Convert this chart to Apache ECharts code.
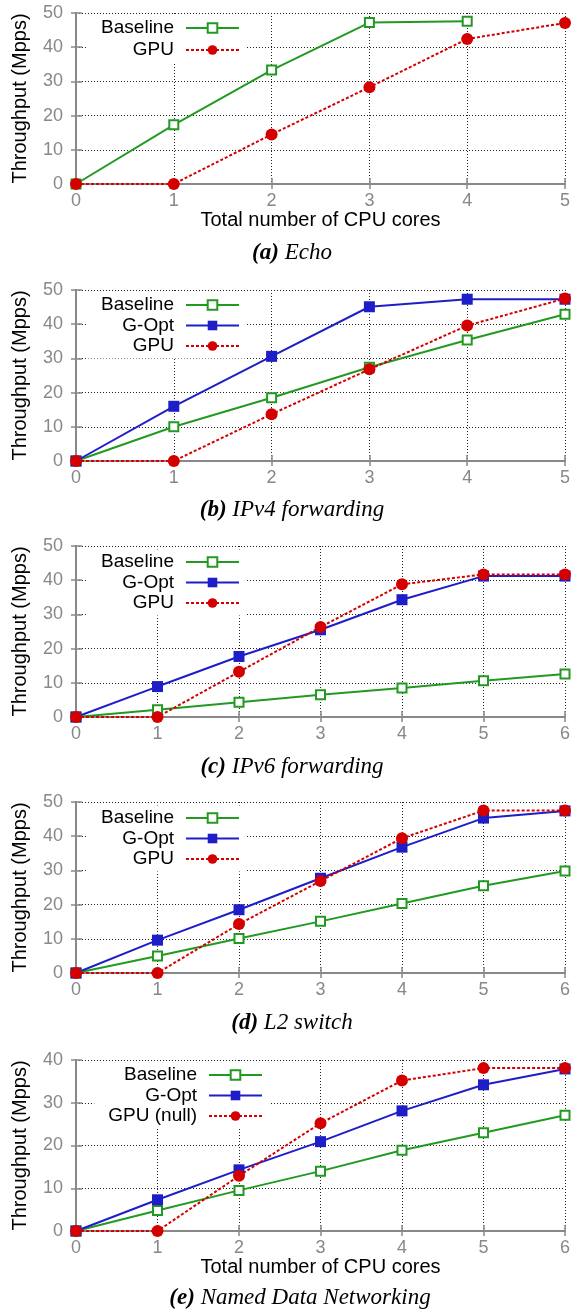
<!DOCTYPE html>
<html>
<head>
<meta charset="utf-8">
<script src="https://cdn.jsdelivr.net/npm/echarts@6.0.0/dist/echarts.min.js"></script>
<style>
  html, body { margin: 0; padding: 0; background: #fff; }
  #chart { width: 581px; height: 1310px; }
</style>
</head>
<body>
<div id="chart"></div>
<script>
// ---- data (Mpps per number of CPU cores) ----
const coresFive = [0, 1, 2, 3, 4, 5]
const coresSix = [0, 1, 2, 3, 4, 5, 6]

const echoBaseline = [0, 17.3, 33.3, 47.2, 47.6]
const echoGpu = [0, 0, 14.5, 28.3, 42.4, 47.1]

const ipv4Baseline = [0, 10.0, 18.5, 27.4, 35.4, 42.9]
const ipv4GOpt = [0, 16.0, 30.6, 45.1, 47.3, 47.3]
const ipv4Gpu = [0, 0, 13.7, 26.8, 39.6, 47.5]

const ipv6Baseline = [0, 2.1, 4.3, 6.5, 8.5, 10.6, 12.6]
const ipv6GOpt = [0, 8.9, 17.7, 25.5, 34.3, 41.2, 41.2]
const ipv6Gpu = [0, 0, 13.2, 26.3, 38.8, 41.7, 41.7]

const l2Baseline = [0, 5.0, 10.1, 15.1, 20.3, 25.5, 29.8]
const l2GOpt = [0, 9.6, 18.5, 27.7, 36.8, 45.3, 47.4]
const l2Gpu = [0, 0, 14.3, 26.9, 39.4, 47.5, 47.5]

const ndnBaseline = [0, 4.8, 9.5, 14.0, 18.9, 23.0, 27.1]
const ndnGOpt = [0, 7.3, 14.3, 20.9, 28.1, 34.2, 37.9]
const ndnGpu = [0, 0, 12.9, 25.2, 35.2, 38.1, 38.1]

const captionLetters = ['(a)', '(b)', '(c)', '(d)', '(e)']
const captionNames = ['Echo', 'IPv4 forwarding', 'IPv6 forwarding', 'L2 switch', 'Named Data Networking']
const yMaxes = [50, 50, 50, 50, 40]
const xTitle = 'Total number of CPU cores'
const yTitle = 'Throughput (Mpps)'

const panels = [
  { cores: coresFive, lines: [['Baseline', echoBaseline], ['GPU', echoGpu]] },
  { cores: coresFive, lines: [['Baseline', ipv4Baseline], ['G-Opt', ipv4GOpt], ['GPU', ipv4Gpu]] },
  { cores: coresSix, lines: [['Baseline', ipv6Baseline], ['G-Opt', ipv6GOpt], ['GPU', ipv6Gpu]] },
  { cores: coresSix, lines: [['Baseline', l2Baseline], ['G-Opt', l2GOpt], ['GPU', l2Gpu]] },
  { cores: coresSix, lines: [['Baseline', ndnBaseline], ['G-Opt', ndnGOpt], ['GPU (null)', ndnGpu]] }
]

// ---- layout ----
const gridTops = [13, 290, 546, 802, 1060]
const gridH = 171
const showXTitle = [true, false, false, false, true]
const legendTops = [15.5, 292.5, 549.5, 805.5, 1062.5]
const legendRights = [334, 334, 334, 334, 311]
const legendGaps = [3, 1.5, 1.5, 1.5, 1.5]
const captionX = [292, 292, 292, 292, 300]
const captionY = [253, 510, 767, 1023, 1298]

const SANS = 'Liberation Sans'
const SERIF = 'Liberation Serif'
const GRAY = '#888'

const GREEN = '#229a22'
const BLUE = '#1e1ec8'
const RED = '#d40000'

const styleFor = (name) => {
  if (name === 'Baseline') {
    return {
      symbol: 'emptyRect', symbolSize: 9,
      itemStyle: { color: GREEN, borderWidth: 1.8 },
      lineStyle: { color: GREEN, width: 2 }
    }
  }
  if (name === 'G-Opt') {
    return {
      symbol: 'rect', symbolSize: 11,
      itemStyle: { color: BLUE, borderWidth: 0 },
      lineStyle: { color: BLUE, width: 2 }
    }
  }
  return {
    symbol: 'circle', symbolSize: 12,
    itemStyle: { color: RED, borderWidth: 0 },
    lineStyle: { color: RED, width: 2, type: [3, 2] }
  }
}

const grids = []
const xAxes = []
const yAxes = []
const series = []
const legends = []

panels.forEach((p, i) => {
  const xMax = p.cores[p.cores.length - 1]
  grids.push({ left: 76, width: 489, top: gridTops[i], height: gridH })

  xAxes.push({
    gridIndex: i, type: 'value', min: 0, max: xMax, interval: 1,
    name: showXTitle[i] ? xTitle : '',
    nameLocation: 'middle', nameGap: 26,
    nameTextStyle: { color: '#000', fontSize: 20, fontFamily: SANS },
    axisLine: { show: true, onZero: false, lineStyle: { color: GRAY, width: 2 } },
    axisTick: { inside: true, length: 6, lineStyle: { color: GRAY, width: 1.5 } },
    axisLabel: { color: GRAY, fontSize: 18, fontFamily: SANS, margin: 8 },
    splitLine: { show: true, lineStyle: { color: '#222', width: 1, type: [1, 2] } }
  })
  xAxes.push({
    gridIndex: i, type: 'value', position: 'top', min: 0, max: xMax, interval: 1,
    axisLine: { show: false },
    axisTick: { inside: true, length: 5, lineStyle: { color: GRAY, width: 1.5 } },
    axisLabel: { show: false },
    splitLine: { show: false }
  })

  yAxes.push({
    gridIndex: i, type: 'value', min: 0, max: yMaxes[i], interval: 10,
    name: yTitle, nameLocation: 'middle', nameGap: 46,
    nameTextStyle: { color: '#000', fontSize: 20, fontFamily: SANS },
    axisLine: { show: true, onZero: false, lineStyle: { color: GRAY, width: 2 } },
    axisTick: { inside: true, length: 6, lineStyle: { color: GRAY, width: 1.5 } },
    axisLabel: { color: GRAY, fontSize: 18, fontFamily: SANS, margin: 13 },
    splitLine: { show: true, lineStyle: { color: '#222', width: 1, type: [1, 2] } }
  })
  yAxes.push({
    gridIndex: i, type: 'value', position: 'right', min: 0, max: yMaxes[i], interval: 10,
    axisLine: { show: false },
    axisTick: { inside: true, length: 5, lineStyle: { color: GRAY, width: 1.5 } },
    axisLabel: { show: false },
    splitLine: { show: false }
  })

  p.lines.forEach(([name, values]) => {
    series.push({
      name, type: 'line',
      xAxisIndex: i * 2, yAxisIndex: i * 2,
      data: values.map((v, k) => [p.cores[k], v]),
      ...styleFor(name),
      emphasis: { disabled: true },
      animation: false
    })
  })

  legends.push({
    orient: 'vertical', align: 'right',
    top: legendTops[i], right: legendRights[i],
    padding: [3, 7, 3, 14],
    backgroundColor: '#fff',
    itemWidth: 53, itemHeight: 12, itemGap: legendGaps[i],
    selectedMode: false,
    textStyle: { color: '#000', fontSize: 19, fontFamily: SANS, padding: [0, 7, 0, 0] },
    data: p.lines.map(l => l[0])
  })
})

const captions = captionLetters.map((letter, i) => ({
  type: 'text', x: captionX[i], y: captionY[i],
  style: {
    text: `{b|${letter}} {r|${captionNames[i]}}`,
    align: 'center', verticalAlign: 'middle',
    fontFamily: SERIF, fontSize: 23, fontStyle: 'italic', fill: '#000',
    rich: {
      b: { fontFamily: SERIF, fontSize: 23, fontStyle: 'italic', fontWeight: 'bold', fill: '#000' },
      r: { fontFamily: SERIF, fontSize: 23, fontStyle: 'italic', fill: '#000' }
    }
  }
}))

const chart = echarts.init(document.getElementById('chart'))
chart.setOption({
  animation: false,
  backgroundColor: '#fff',
  grid: grids,
  xAxis: xAxes,
  yAxis: yAxes,
  legend: legends,
  series,
  graphic: captions
})
</script>
</body>
</html>
